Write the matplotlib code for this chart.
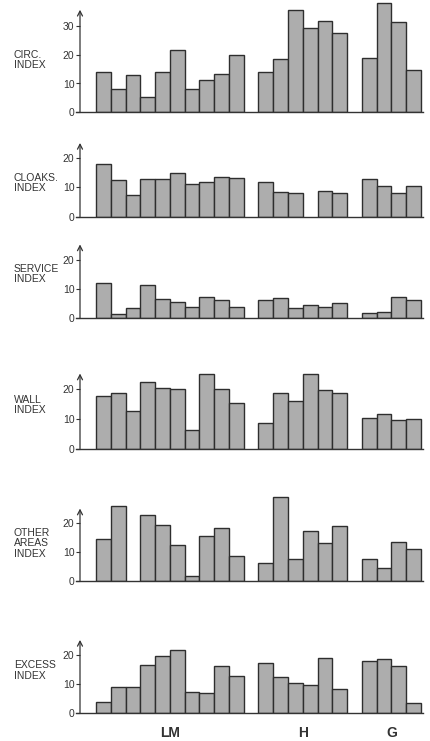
import numpy as np
import matplotlib
matplotlib.use("Agg")
import matplotlib.pyplot as plt
from matplotlib.transforms import blended_transform_factory

plt.rcParams['font.family'] = ['Liberation Sans', 'DejaVu Sans']

# ---------------- data ----------------
groups = ['LM', 'H', 'G']
group_sizes = [10, 6, 4]
index_labels = ['CIRC.\nINDEX', 'CLOAKS.\nINDEX', 'SERVICE\nINDEX',
                'WALL\nINDEX', 'OTHER\nAREAS\nINDEX', 'EXCESS\nINDEX']

# values per group (None = no bar)
circ_lm = [14.1, 8.0, 12.9, 5.4, 14.1, 21.6, 8.0, 11.2, 13.2, 19.9]
circ_h = [14.1, 18.5, 35.5, 29.1, 31.7, 27.4]
circ_g = [19.0, 37.8, 31.3, 14.7]

cloaks_lm = [17.9, 12.4, 7.3, 12.8, 12.7, 14.7, 11.1, 11.9, 13.3, 13.0]
cloaks_h = [11.9, 8.5, 8.1, None, 8.7, 8.0]
cloaks_g = [12.7, 10.5, 7.9, 10.4]

service_lm = [12.1, 1.4, 3.6, 11.5, 6.6, 5.7, 3.75, 7.2, 6.25, 3.9]
service_h = [6.1, 7.0, 3.4, 4.5, 4.0, 5.1]
service_g = [1.9, 2.2, 7.3, 6.4]

wall_lm = [17.8, 18.9, 12.7, 22.6, 20.3, 20.0, 6.3, 25.2, 20.0, 15.3]
wall_h = [8.7, 18.6, 16.2, 25.2, 19.8, 18.6]
wall_g = [10.5, 11.6, 9.6, 9.9]

other_lm = [14.4, 25.7, None, 22.6, 19.2, 12.3, 1.7, 15.5, 18.1, 8.6]
other_h = [6.2, 28.7, 7.7, 17.2, 13.1, 18.9]
other_g = [7.7, 4.3, 13.2, 10.8]

excess_lm = [3.8, 9.1, 9.1, 16.6, 19.7, 21.8, 7.5, 7.0, 16.2, 12.9]
excess_h = [17.5, 12.5, 10.5, 9.7, 19.2, 8.3]
excess_g = [17.9, 18.7, 16.2, 3.6]

series = [
    (circ_lm, circ_h, circ_g),
    (cloaks_lm, cloaks_h, cloaks_g),
    (service_lm, service_h, service_g),
    (wall_lm, wall_h, wall_g),
    (other_lm, other_h, other_g),
    (excess_lm, excess_h, excess_g),
]
yticks = [[0, 10, 20, 30], [0, 10, 20], [0, 10, 20], [0, 10, 20], [0, 10, 20], [0, 10, 20]]

# ---------------- layout (pixels) ----------------
W, H = 431, 741
baseline_px = [112.3, 216.7, 318.3, 448.7, 581.0, 713.3]
px_per_unit = [2.88, 2.95, 2.93, 2.97, 2.92, 2.90]
ymax_axes = [38.5, 30, 30, 30, 30, 30]
arrow_top = [35.6, 25.0, 25.2, 25.3, 24.8, 25.3]
label_center_px = [60, 183, 274, 405, 543.5, 670.5]
axis_x_px = 80
slot_px = 14.77
first_bar_px = 96
right_px = 424

fill = '#adadad'
edge = '#2e2e2e'
ink = '#333333'

fig = plt.figure(figsize=(W / 100, H / 100), dpi=100)
fig.patch.set_facecolor('white')

# slot positions: groups separated by one empty slot
starts = []
s = 0
for n in group_sizes:
    starts.append(s)
    s += n + 1

xl = -(first_bar_px - axis_x_px) / slot_px
xr = xl + (right_px - axis_x_px) / slot_px

axes = []
for i, grp_vals in enumerate(series):
    base = baseline_px[i]
    hpx = ymax_axes[i] * px_per_unit[i]
    ax = fig.add_axes([axis_x_px / W, (H - base) / H,
                       (right_px - axis_x_px) / W, hpx / H])
    ax.set_facecolor('none')
    ax.set_xlim(xl, xr)
    ax.set_ylim(0, ymax_axes[i])
    for g, vals in enumerate(grp_vals):
        xs = [starts[g] + k for k, v in enumerate(vals) if v is not None]
        vs = [v for v in vals if v is not None]
        ax.bar(xs, vs, width=1.0, align='edge', color=fill,
               edgecolor=edge, linewidth=1.0, zorder=2)
    for sp in ax.spines.values():
        sp.set_visible(False)
    # baseline
    ax.plot([xl - 0.25, xr - 0.05], [0, 0], color=ink, lw=1.0,
            clip_on=False, zorder=3)
    # y axis with arrow
    ax.annotate('', xy=(xl, arrow_top[i]), xytext=(xl, 0),
                arrowprops=dict(arrowstyle='->,head_length=0.35,head_width=0.18',
                                lw=0.9, color=ink, shrinkA=0, shrinkB=0),
                annotation_clip=False)
    ax.set_xticks([])
    ax.set_yticks(yticks[i])
    ax.tick_params(axis='y', length=3, width=0.8, color=ink, pad=1,
                   labelsize=7.5, labelcolor=ink, direction='out')
    fig.text(14 / W, (H - label_center_px[i]) / H, index_labels[i],
             ha='left', va='center', fontsize=7.5, color=ink, linespacing=1.12)
    axes.append(ax)

# group labels under last panel
ax = axes[-1]
tr = blended_transform_factory(ax.transData, fig.transFigure)
for g, name in enumerate(groups):
    xc = starts[g] + group_sizes[g] / 2
    ax.text(xc, (H - 733) / H, name, transform=tr, ha='center', va='center',
            fontsize=10, fontweight='bold', color=ink)

fig.savefig('out.png', dpi=100, facecolor='white')
